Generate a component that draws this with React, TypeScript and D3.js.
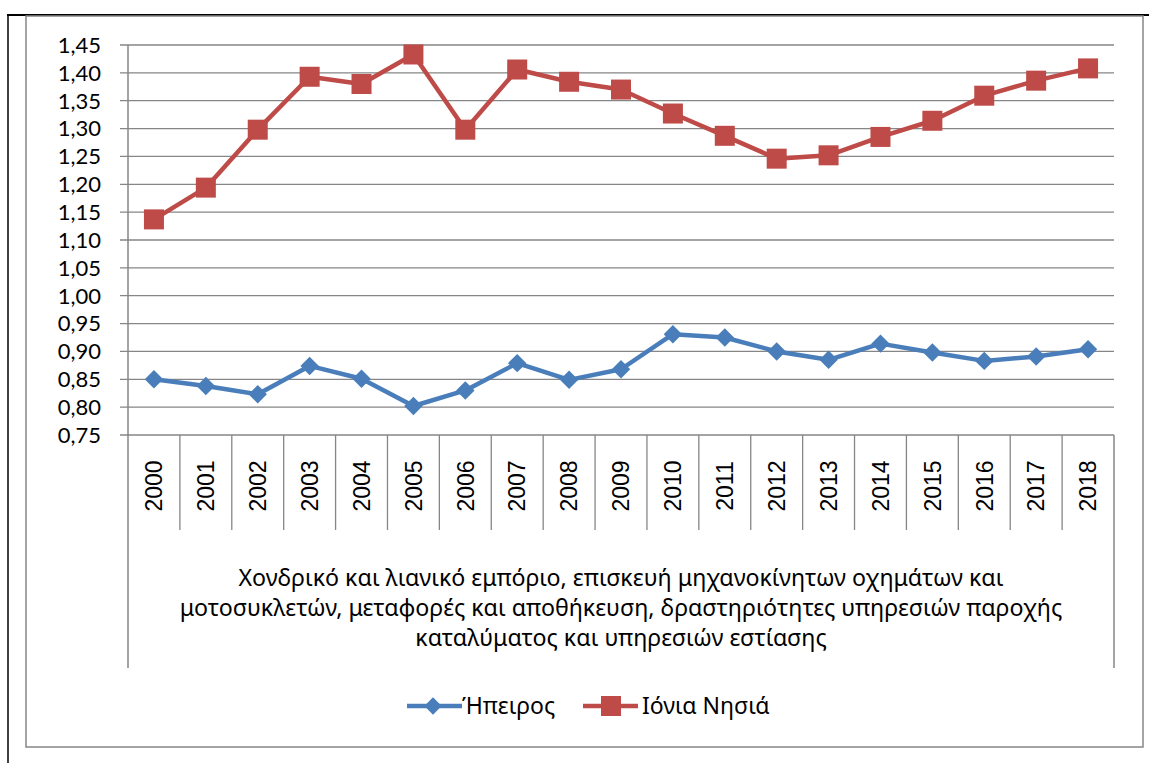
import React, { useEffect, useRef } from 'react';
import * as d3 from 'd3';

const years = ['2000', '2001', '2002', '2003', '2004', '2005', '2006', '2007', '2008', '2009',
  '2010', '2011', '2012', '2013', '2014', '2015', '2016', '2017', '2018'];

const epirus = [0.850, 0.838, 0.823, 0.874, 0.851, 0.802, 0.830, 0.879, 0.849, 0.868,
  0.931, 0.925, 0.900, 0.885, 0.914, 0.898, 0.883, 0.891, 0.904];

const ionian = [1.137, 1.194, 1.298, 1.393, 1.380, 1.433, 1.298, 1.406, 1.384, 1.370,
  1.327, 1.287, 1.246, 1.252, 1.285, 1.314, 1.359, 1.386, 1.408];

const yTicks = [0.75, 0.8, 0.85, 0.9, 0.95, 1.0, 1.05, 1.1, 1.15, 1.2, 1.25, 1.3, 1.35, 1.4, 1.45];

const seriesNames = ['Ήπειρος', 'Ιόνια Νησιά'];

const axisTitle = [
  'Χονδρικό και λιανικό εμπόριο, επισκευή μηχανοκίνητων οχημάτων και',
  'μοτοσυκλετών, μεταφορές και αποθήκευση, δραστηριότητες υπηρεσιών παροχής',
  'καταλύματος και υπηρεσιών εστίασης',
];

const FONT = '"Noto Sans", "Open Sans", sans-serif';
const TICK_FONT = 'Lato, "Noto Sans", sans-serif';
const YEAR_FONT = '"Liberation Sans", Arial, sans-serif';

export default function App() {
  const ref = useRef<SVGSVGElement>(null);

  const width = 1149;
  const height = 763;
  const left = 128;
  const right = 1114;
  const top = 45;
  const bottom = 435;
  const gridColor = '#868686';
  const blue = '#4A7EBB';
  const red = '#BE4B48';

  useEffect(() => {
    draw();
  }, []);

  function draw() {
    const svg = d3.select(ref.current);
    svg.selectAll('*').remove();

    // outer frames
    svg.append('line').attr('x1', 7).attr('x2', width).attr('y1', 15).attr('y2', 15)
      .attr('stroke', '#000').attr('stroke-width', 2);
    svg.append('line').attr('x1', 8).attr('x2', 8).attr('y1', 15).attr('y2', height)
      .attr('stroke', '#000').attr('stroke-width', 1.5);
    svg.append('rect').attr('x', 26).attr('y', 16).attr('width', 1143 - 26).attr('height', 747 - 16)
      .attr('fill', 'none').attr('stroke', gridColor).attr('stroke-width', 1.5);

    const x = d3.scaleBand().domain(years).range([left, right]);
    const y = d3.scaleLinear().domain([0.75, 1.45]).range([bottom, top]);
    const cx = (i: number) => x(years[i])! + x.bandwidth() / 2;

    const fmt = (v: number) => d3.format('.2f')(v).replace('.', ',');

    // gridlines + y ticks
    svg.append('g').selectAll('line').data(yTicks).enter().append('line')
      .attr('x1', left - 8).attr('x2', right)
      .attr('y1', (d) => y(d)).attr('y2', (d) => y(d))
      .attr('stroke', gridColor).attr('stroke-width', 1.3);

    svg.append('g').selectAll('text').data(yTicks).enter().append('text')
      .attr('x', 101).attr('y', (d) => y(d)).attr('dy', '0.36em')
      .attr('text-anchor', 'end').attr('font-family', TICK_FONT).attr('font-size', 22)
      .attr('fill', '#000').text((d) => fmt(d));

    // axis verticals
    svg.append('line').attr('x1', left).attr('x2', left).attr('y1', top).attr('y2', 668)
      .attr('stroke', gridColor).attr('stroke-width', 1.5);
    svg.append('line').attr('x1', right).attr('x2', right).attr('y1', bottom).attr('y2', 668)
      .attr('stroke', gridColor).attr('stroke-width', 1.5);

    // category separators
    svg.append('g').selectAll('line').data(years.slice(1)).enter().append('line')
      .attr('x1', (d) => x(d)!).attr('x2', (d) => x(d)!)
      .attr('y1', bottom).attr('y2', 530)
      .attr('stroke', gridColor).attr('stroke-width', 1.3);

    // year labels
    svg.append('g').selectAll('text').data(years).enter().append('text')
      .attr('transform', (d) => `translate(${x(d)! + x.bandwidth() / 2}, 486) rotate(-90)`)
      .attr('text-anchor', 'middle').attr('dy', '0.36em')
      .attr('font-family', YEAR_FONT).attr('font-size', 23).attr('fill', '#000')
      .text((d) => d);

    // axis title
    svg.append('g').selectAll('text').data(axisTitle).enter().append('text')
      .attr('x', (left + right) / 2).attr('y', (d, i) => 578 + i * 30).attr('dy', '0.36em')
      .attr('text-anchor', 'middle').attr('font-family', FONT).attr('font-size', 23.2)
      .attr('fill', '#000').text((d) => d);

    const line = d3.line<number>()
      .x((d, i) => cx(i))
      .y((d) => y(d));

    const diamond = d3.symbol().type(d3.symbolSquare).size(170);

    // Epirus
    svg.append('path').datum(epirus).attr('d', line).attr('fill', 'none')
      .attr('stroke', blue).attr('stroke-width', 4.5).attr('stroke-linejoin', 'round');
    svg.append('g').selectAll('path').data(epirus).enter().append('path')
      .attr('transform', (d, i) => `translate(${cx(i)}, ${y(d)}) rotate(45)`)
      .attr('d', diamond as any)
      .attr('fill', blue);

    // Ionian
    svg.append('path').datum(ionian).attr('d', line).attr('fill', 'none')
      .attr('stroke', red).attr('stroke-width', 4.5).attr('stroke-linejoin', 'round');
    svg.append('g').selectAll('rect').data(ionian).enter().append('rect')
      .attr('x', (d, i) => cx(i) - 10)
      .attr('y', (d) => y(d) - 10)
      .attr('width', 20).attr('height', 20)
      .attr('fill', red);

    // legend
    const ly = 706;
    const lg = svg.append('g');
    lg.append('line').attr('x1', 407).attr('x2', 462).attr('y1', ly).attr('y2', ly)
      .attr('stroke', blue).attr('stroke-width', 4.5);
    lg.append('path').attr('transform', `translate(433, ${ly}) rotate(45)`)
      .attr('d', d3.symbol().type(d3.symbolSquare).size(150) as any).attr('fill', blue);
    lg.append('text').attr('x', 462).attr('y', ly).attr('dy', '0.36em')
      .attr('font-family', FONT).attr('font-size', 23).text(seriesNames[0]);
    lg.append('line').attr('x1', 583).attr('x2', 638).attr('y1', ly).attr('y2', ly)
      .attr('stroke', red).attr('stroke-width', 4.5);
    lg.append('rect').attr('x', 601).attr('y', ly - 10).attr('width', 20).attr('height', 20)
      .attr('fill', red);
    lg.append('text').attr('x', 642).attr('y', ly).attr('dy', '0.36em')
      .attr('font-family', FONT).attr('font-size', 23).text(seriesNames[1]);
  }

  return (
    <svg ref={ref} width={width} height={height}
      style={{ position: 'absolute', left: 0, top: 0, background: '#fff' }} />
  );
}
